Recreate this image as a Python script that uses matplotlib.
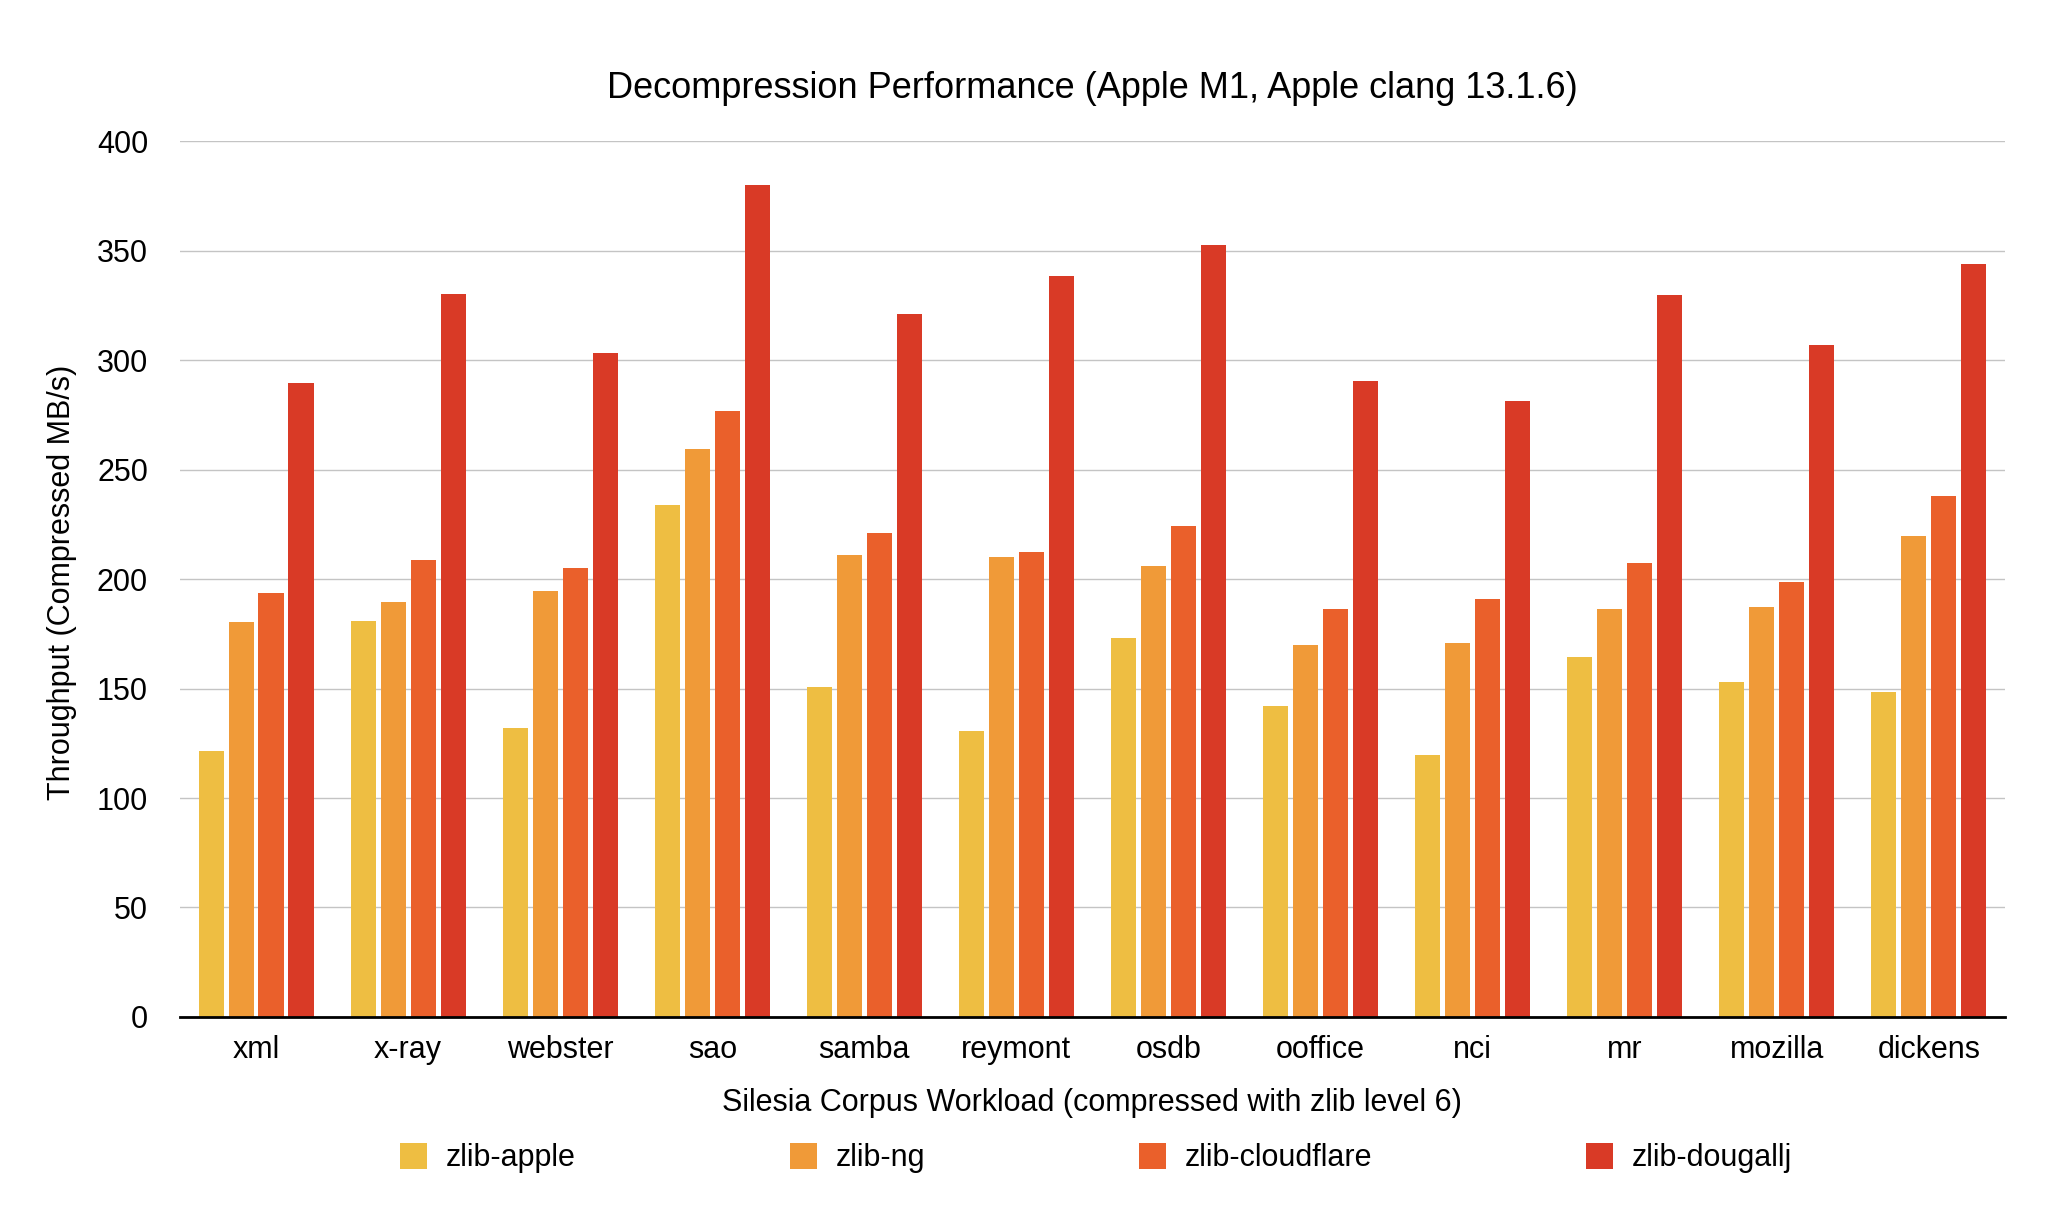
import matplotlib
matplotlib.use("Agg")
import matplotlib.pyplot as plt
from matplotlib.patches import Patch
import numpy as np

plt.rcParams['font.family'] = ['Liberation Sans', 'DejaVu Sans']

categories = ["xml", "x-ray", "webster", "sao", "samba", "reymont", "osdb",
              "ooffice", "nci", "mr", "mozilla", "dickens"]
series_names = ["zlib-apple", "zlib-ng", "zlib-cloudflare", "zlib-dougallj"]
zlib_apple = [121.5, 181, 132, 234, 150.5, 130.5, 173, 142, 119.5, 164.5, 153, 148.5]
zlib_ng = [180.5, 189.5, 194.5, 259.5, 211, 210, 206, 170, 171, 186.5, 187, 219.5]
zlib_cloudflare = [193.5, 208.5, 205, 276.5, 221, 212.5, 224, 186.5, 191, 207.5, 198.5, 238]
zlib_dougallj = [289.5, 330, 303, 380, 321, 338.5, 352.5, 290.5, 281.5, 329.5, 307, 344]
colors = ["#EEBE42", "#F09A38", "#EA602B", "#D93A26"]

series = [zlib_apple, zlib_ng, zlib_cloudflare, zlib_dougallj]

fig = plt.figure(figsize=(20.48, 12.2), dpi=100)
ax = fig.add_axes([0.0879, 0.1664, 0.891, 0.718])

x = np.arange(len(categories))
pitch = 0.197
width = 0.165
for i, (vals, c, name) in enumerate(zip(series, colors, series_names)):
    ax.bar(x + (i - 1.5) * pitch, vals, width=width, color=c, label=name,
           zorder=3, linewidth=0)

ax.set_xlim(-0.5, len(categories) - 0.5)
ax.set_ylim(0, 400)
ax.set_yticks(np.arange(0, 401, 50))
ax.set_xticks(x)
ax.set_xticklabels(categories)
ax.yaxis.grid(True, color="#c4c4c4", linewidth=1.0, zorder=0)
ax.set_axisbelow(True)
for s in ["top", "right", "left"]:
    ax.spines[s].set_visible(False)
ax.spines["bottom"].set_color("black")
ax.spines["bottom"].set_linewidth(2.0)
ax.spines["bottom"].set_zorder(4)
ax.tick_params(axis="both", length=0, labelsize=22, colors="black")
ax.tick_params(axis="x", pad=13)
ax.tick_params(axis="y", pad=23)

fig.text(1092 / 2048, 1 - 88 / 1220,
         "Decompression Performance (Apple M1, Apple clang 13.1.6)",
         ha="center", va="center", fontsize=26)
fig.text(62 / 2048, 1 - 582 / 1220, "Throughput (Compressed MB/s)",
         rotation=90, ha="center", va="center", fontsize=22)
fig.text(1092 / 2048, 1 - 1103 / 1220,
         "Silesia Corpus Workload (compressed with zlib level 6)",
         ha="center", va="center", fontsize=22)

handles = [Patch(facecolor=c, edgecolor="none", label=n) for c, n in zip(colors, series_names)]
fig.legend(handles=handles, loc="center", bbox_to_anchor=(1096 / 2048, 1 - 1158 / 1220),
           ncol=4, frameon=False, fontsize=22, handlelength=0.9, handleheight=0.95,
           handletextpad=0.6, columnspacing=7.0)

fig.savefig("out.png", dpi=100, facecolor="white")
